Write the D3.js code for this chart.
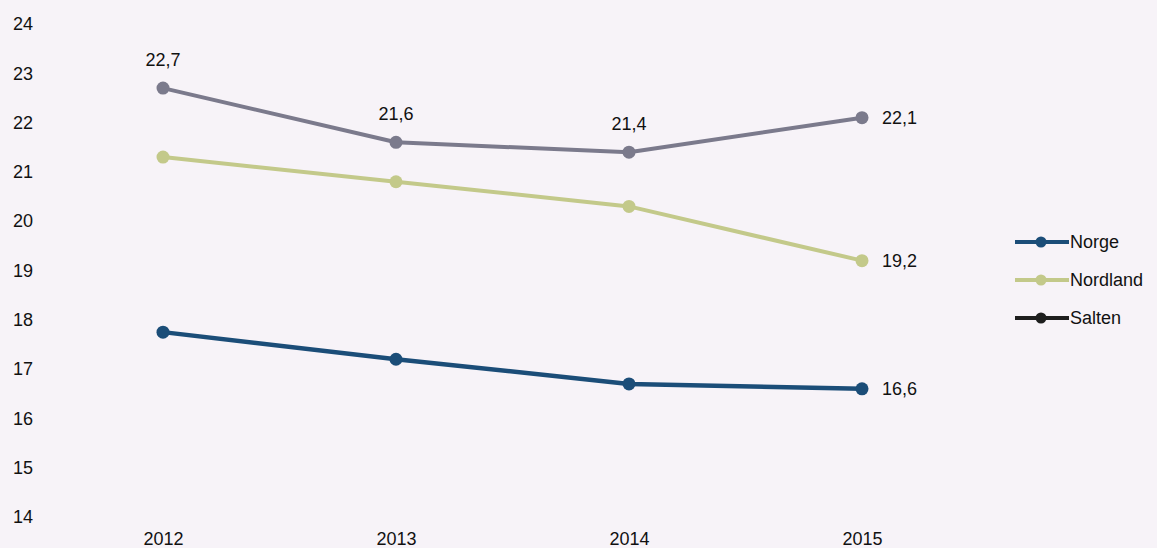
<!DOCTYPE html>
<html><head><meta charset="utf-8">
<script src="https://cdn.jsdelivr.net/npm/d3@7"></script>
<style>html,body{margin:0;padding:0;background:#f7f3f8;}svg{display:block;font-family:"Liberation Sans",Arial,sans-serif;}</style>
</head><body>
<svg id="c" width="1157" height="548"></svg>
<script>
const years = ["2012","2013","2014","2015"];
const yTicks = [14,15,16,17,18,19,20,21,22,23,24];
const norge = [17.75, 17.2, 16.7, 16.6];
const nordland = [21.3, 20.8, 20.3, 19.2];
const salten = [22.7, 21.6, 21.4, 22.1];
const seriesNames = ["Norge","Nordland","Salten"];
const seriesColors = ["#1b4d78","#c3c98a","#7b7a8c"];
const legendColors = ["#1b4d78","#c3c98a","#1e1e1e"];

const FS = 18;
const svg = d3.select("#c");
const x = d3.scalePoint().domain(years).range([163, 862]);
const y = d3.scaleLinear().domain([14,24]).range([517, 24]);

const yAxis = d3.axisLeft(y).tickValues(yTicks).tickSize(0).tickPadding(0).tickFormat(d3.format("d"));
const gy = svg.append("g").attr("transform","translate(33,0)").call(yAxis);
gy.select(".domain").remove();
gy.selectAll("text").attr("font-size",FS).attr("fill","#111").attr("font-family","Liberation Sans, Arial, sans-serif");

const xAxis = d3.axisBottom(x).tickSize(0).tickPadding(0);
const gx = svg.append("g").attr("transform","translate(0,545)").call(xAxis);
gx.select(".domain").remove();
gx.selectAll("text").attr("font-size",FS).attr("fill","#111").attr("dy","0").attr("y",0).attr("font-family","Liberation Sans, Arial, sans-serif");

const data = [norge, nordland, salten];
const line = d3.line().x((d,i)=>x(years[i])).y(d=>y(d));
const widths = [4.5, 4, 4];
data.forEach((vals, k) => {
  svg.append("path").datum(vals).attr("d", line).attr("fill","none")
    .attr("stroke", seriesColors[k]).attr("stroke-width", widths[k]).attr("stroke-linejoin","round");
  svg.selectAll(null).data(vals).enter().append("circle")
    .attr("cx",(d,i)=>x(years[i])).attr("cy",d=>y(d)).attr("r",6.5).attr("fill",seriesColors[k]);
});

const fmt = v => d3.format(".1f")(v).replace(".", ",");
salten.forEach((v,i)=>{
  if(i<3){
    svg.append("text").attr("x",x(years[i])).attr("y",y(v)-22).attr("text-anchor","middle")
      .attr("font-size",FS).attr("fill","#111").text(fmt(v));
  }
});
[salten, nordland, norge].forEach(vals=>{
  const v = vals[3];
  svg.append("text").attr("x",x("2015")+20).attr("y",y(v)).attr("dy","0.35em")
    .attr("font-size",FS).attr("fill","#111").text(fmt(v));
});

const legY = [242, 280, 318];
seriesNames.forEach((n,k)=>{
  const g = svg.append("g");
  g.append("line").attr("x1",1015).attr("x2",1069).attr("y1",legY[k]).attr("y2",legY[k])
    .attr("stroke",legendColors[k]).attr("stroke-width",4);
  g.append("circle").attr("cx",1041).attr("cy",legY[k]).attr("r",5.5).attr("fill",legendColors[k]);
  g.append("text").attr("x",1070).attr("y",legY[k]).attr("dy","0.35em").attr("font-size",FS)
    .attr("fill","#111").text(n);
});
</script>
</body></html>
